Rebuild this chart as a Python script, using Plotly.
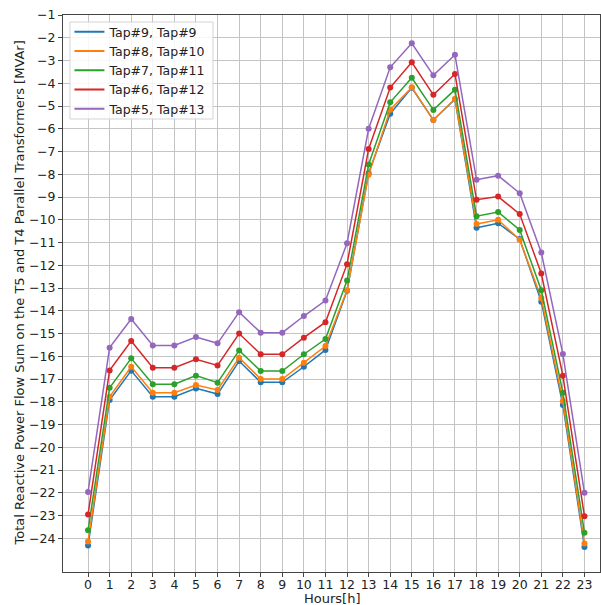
import plotly.graph_objects as go

hours = list(range(24))
series_names = ["Tap#9, Tap#9", "Tap#8, Tap#10", "Tap#7, Tap#11", "Tap#6, Tap#12", "Tap#5, Tap#13"]
colors = ["#1f77b4", "#ff7f0e", "#2ca02c", "#d62728", "#9467bd"]

tap9_9 = [-24.31, -17.92, -16.63, -17.78, -17.78, -17.41, -17.66, -16.21, -17.14, -17.14, -16.46, -15.72,
          -13.12, -7.95, -5.34, -4.20, -5.62, -4.70, -10.35, -10.15, -10.85, -13.60, -18.14, -24.38]
tap8_10 = [-24.14, -17.78, -16.46, -17.60, -17.60, -17.26, -17.48, -16.06, -17.00, -17.00, -16.28, -15.55,
           -13.10, -8.02, -5.16, -4.18, -5.61, -4.69, -10.19, -10.00, -10.88, -13.45, -17.97, -24.23]
tap7_11 = [-23.65, -17.38, -16.09, -17.23, -17.23, -16.85, -17.16, -15.74, -16.65, -16.65, -15.91, -15.24,
           -12.67, -7.57, -4.84, -3.76, -5.17, -4.28, -9.84, -9.66, -10.45, -13.10, -17.60, -23.75]
tap6_12 = [-22.95, -16.62, -15.33, -16.50, -16.50, -16.13, -16.40, -15.00, -15.91, -15.91, -15.18, -14.50,
           -11.95, -6.89, -4.19, -3.08, -4.51, -3.59, -9.12, -8.98, -9.75, -12.36, -16.85, -23.03]
tap5_13 = [-21.96, -15.62, -14.36, -15.52, -15.52, -15.15, -15.43, -14.06, -14.96, -14.96, -14.23, -13.55,
           -11.03, -6.00, -3.30, -2.24, -3.65, -2.75, -8.24, -8.06, -8.83, -11.44, -15.90, -22.00]

all_series = [tap9_9, tap8_10, tap7_11, tap6_12, tap5_13]
y_ticks = list(range(-24, 0))
y_ticklabels = [str(v).replace("-", "\u2212") for v in y_ticks]
x_label = "Hours[h]"
y_label = "Total Reactive Power Flow Sum on the T5 and T4 Parallel Transformers [MVAr]"

fig = go.Figure()
for name, vals, col in zip(series_names, all_series, colors):
    fig.add_trace(go.Scatter(x=hours, y=vals, mode="lines+markers", name=name,
                             line=dict(color=col, width=1.5),
                             marker=dict(color=col, size=6),
                             showlegend=False))
for name, col in zip(series_names, colors):
    fig.add_trace(go.Scatter(x=[None], y=[None], mode="lines", name=name,
                             line=dict(color=col, width=2), showlegend=True))

font_family = "DejaVu Sans"
axis_common = dict(showgrid=True, gridcolor="#c4c4c4", gridwidth=1,
                   showline=True, linecolor="#444", linewidth=1, mirror=True,
                   ticks="outside", ticklen=4, tickcolor="#444", zeroline=False,
                   automargin=False, tickfont=dict(size=12.5, color="#222"))

# legend frame (matplotlib-style box), in paper coordinates
legend_box = dict(type="rect", xref="paper", yref="paper", x0=0.013, x1=0.2793, y0=0.8133, y1=0.9874,
                  line=dict(color="#d4d4d4", width=1), fillcolor="rgba(255,255,255,0.85)", layer="above")

fig.update_layout(
    width=601, height=605,
    margin=dict(l=63, r=1, t=15, b=33),
    paper_bgcolor="white", plot_bgcolor="white",
    font=dict(family=font_family, size=13, color="#222"),
    legend=dict(x=0.012, y=0.9964, xanchor="left", yanchor="top",
                bgcolor="rgba(0,0,0,0)", borderwidth=0,
                font=dict(size=12.5, color="#222"), itemwidth=30, tracegroupgap=0),
    shapes=[legend_box],
    xaxis=dict(range=[-1.16, 23.72], tickvals=hours, ticktext=[str(h) for h in hours],
               ticklabelstandoff=-3, **axis_common),
    yaxis=dict(range=[-25.48, -1.0], tickvals=y_ticks + [-1],
               ticktext=y_ticklabels + ["\u22121"], **axis_common),
    annotations=[
        dict(text=x_label, xref="paper", yref="paper", x=0.5, y=0, xanchor="center", yanchor="middle",
             yshift=-26, showarrow=False, font=dict(size=13, color="#222")),
        dict(text=y_label, xref="paper", yref="paper", x=0, y=0.5, xanchor="center", yanchor="middle",
             xshift=-44, textangle=-90, showarrow=False, font=dict(size=13, color="#222")),
    ],
)

fig.write_html("out.html", config={"displayModeBar": False},
               post_script="document.body.style.margin='0';document.body.style.overflow='hidden';")
